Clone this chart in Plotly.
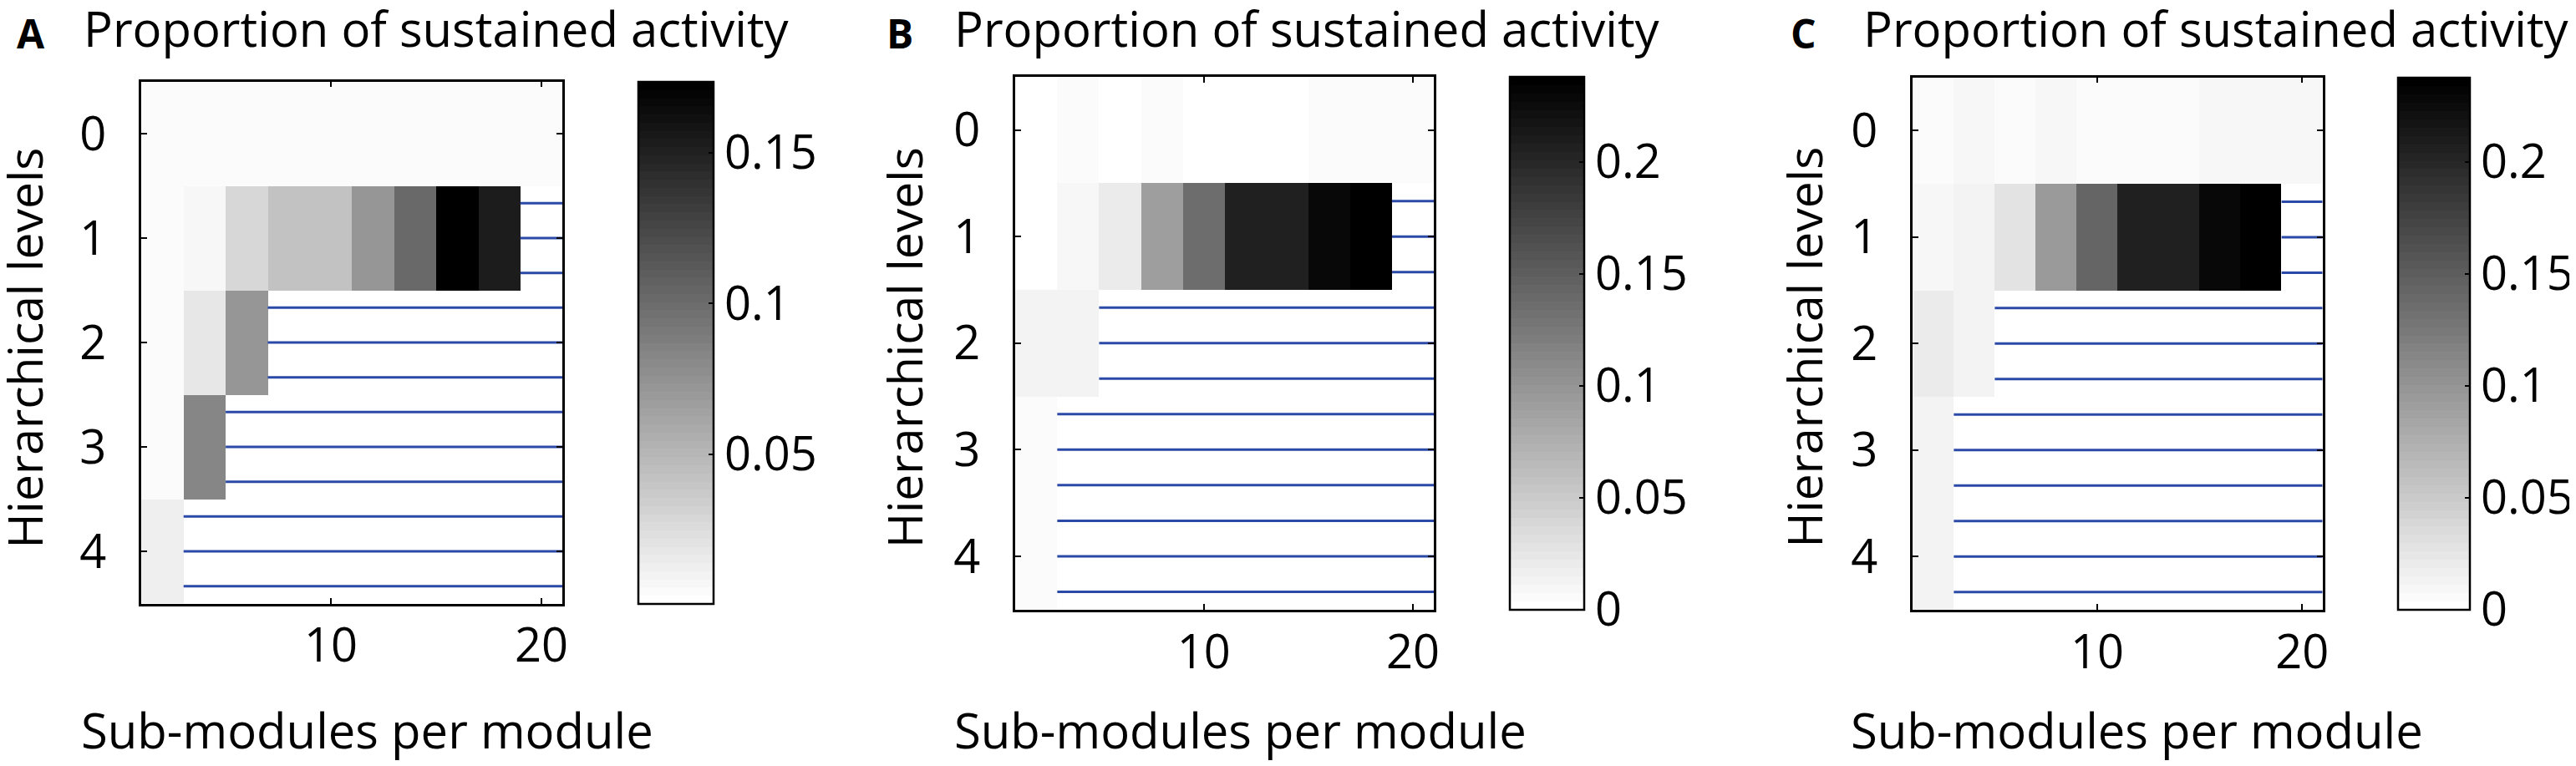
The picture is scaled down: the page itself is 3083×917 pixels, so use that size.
import plotly.graph_objects as go

FONT = "Open Sans"
W, H = 3083, 917

# data
x_modules = [2, 4, 6, 8, 10, 12, 14, 16, 18, 20]
levels = [0, 1, 2, 3, 4]

sustained_a = [
    [0.0045, 0.0045, 0.0045, 0.0045, 0.0045, 0.0045, 0.0045, 0.0045, 0.0045, 0.0045],
    [0.0038, 0.0072, 0.0283, 0.0418, 0.0418, 0.0724, 0.1030, 0.1736, 0.1525, None],
    [0.0052, 0.0181, 0.0731, None, None, None, None, None, None, None],
    [0.0052, 0.0833, None, None, None, None, None, None, None, None],
    [0.0120, None, None, None, None, None, None, None, None, None],
]
sustained_b = [
    [0.0, 0.0056, 0.0, 0.0056, 0.0, 0.0, 0.0, 0.0065, 0.0065, 0.0065],
    [0.0, 0.0084, 0.0215, 0.0924, 0.1353, 0.2053, 0.2053, 0.2287, 0.2380, None],
    [0.0140, 0.0140, None, None, None, None, None, None, None, None],
    [0.0056, None, None, None, None, None, None, None, None, None],
    [0.0056, None, None, None, None, None, None, None, None, None],
]
sustained_c = [
    [0.0056, 0.0084, 0.0056, 0.0084, 0.0065, 0.0065, 0.0065, 0.0103, 0.0103, 0.0103],
    [0.0084, 0.0112, 0.0289, 0.0960, 0.1426, 0.2060, 0.2060, 0.2274, 0.2377, None],
    [0.0205, 0.0121, None, None, None, None, None, None, None, None],
    [0.0121, None, None, None, None, None, None, None, None, None],
    [0.0140, None, None, None, None, None, None, None, None, None],
]

clim_a = (0.0004, 0.1736)
clim_b = (0.0, 0.2380)
clim_c = (0.0, 0.2377)
cbar_ticks_a = [0.05, 0.1, 0.15]
cbar_ticks_bc = [0, 0.05, 0.1, 0.15, 0.2]
cbar_text_a = ["0.05", "0.1", "0.15"]
cbar_text_bc = ["0", "0.05", "0.1", "0.15", "0.2"]
x_ticks = [10, 20]

title = "Proportion of sustained activity"
xlabel = "Sub-modules per module"
ylabel = "Hierarchical levels"

# matlab style flipud(gray) with 64 steps
gray64 = []
for i in range(64):
    g = round(255 * (1 - i / 63))
    c = f"rgb({g},{g},{g})"
    gray64 += [[i / 64, c], [(i + 1) / 64, c]]

# pixel boxes of each panel: axes (l, r, t, b), colorbar (l, r)
panels = [
    dict(z=sustained_a, clim=clim_a, ct=cbar_ticks_a, ctt=cbar_text_a, ax=(161.7, 666.7, 89.5, 714.5),
         cb=(757.3, 849.3), letter="A", lx=29.5, tx=90, xt=432.5, yt=21.5),
    dict(z=sustained_b, clim=clim_b, ct=cbar_ticks_bc, ctt=cbar_text_bc, ax=(1210, 1712, 83.8, 721.7),
         cb=(1802.7, 1893.5), letter="B", lx=1071, tx=1135, xt=1480, yt=1076.5),
    dict(z=sustained_c, clim=clim_c, ct=cbar_ticks_bc, ctt=cbar_text_bc, ax=(2286.5, 2778, 84.7, 722),
         cb=(2869, 2957), letter="C", lx=2155, tx=2225, xt=2555, yt=2155.5),
]

fig = go.Figure()
axis_common = dict(showline=True, linecolor="black", linewidth=2.5, mirror="ticks", ticks="inside",
                   ticklen=7, tickwidth=2, tickcolor="black", showgrid=False, zeroline=False,
                   tickfont=dict(family=FONT, size=56, color="black"))
annotations = []
for k, p in enumerate(panels):
    n = "" if k == 0 else str(k + 1)
    l, r, t, b = p["ax"]
    fig.add_trace(go.Heatmap(x=x_modules, y=levels, z=p["z"], coloraxis="coloraxis" + n,
                             xaxis="x" + n, yaxis="y" + n, hoverongaps=False))

    # blue lines where a row has no data
    half = (x_modules[1] - x_modules[0]) / 2
    x_end = x_modules[-1] + half
    lx, ly = [], []
    for lev, row in zip(levels, p["z"]):
        if None in row:
            x_start = x_modules[row.index(None)] - half
            for off in (-1 / 3, 0, 1 / 3):
                lx += [x_start, x_end, None]
                ly += [lev + off, lev + off, None]
    fig.add_trace(go.Scatter(x=lx, y=ly, mode="lines", line=dict(color="#2b4aa8", width=3),
                             xaxis="x" + n, yaxis="y" + n, hoverinfo="skip"))

    fig.layout["xaxis" + n] = dict(axis_common, domain=[l / W, r / W], anchor="y" + n,
                                   range=[x_modules[0] - half, x_end], tickvals=x_ticks,
                                   ticklabelstandoff=0)
    fig.layout["yaxis" + n] = dict(axis_common, domain=[1 - b / H, 1 - t / H], anchor="x" + n,
                                   range=[levels[-1] + 0.5, levels[0] - 0.5], tickvals=levels,
                                   ticklabelstandoff=28)
    cl, cr = p["cb"]
    fig.layout["coloraxis" + n] = dict(
        colorscale=gray64, cmin=p["clim"][0], cmax=p["clim"][1],
        colorbar=dict(x=cl / W, xanchor="left", xpad=0, ypad=0, thicknessmode="pixels",
                      thickness=cr - cl - 2, lenmode="pixels", len=b - t,
                      y=1 - (t + b) / 2 / H, yanchor="middle", outlinewidth=2.5, outlinecolor="black",
                      tickvals=p["ct"], ticktext=p["ctt"], ticks="inside", ticklen=7, tickwidth=2,
                      tickcolor="black", tickfont=dict(family=FONT, size=56, color="black")))

    annotations += [
        dict(text="<b>" + p["letter"] + "</b>", x=p["lx"] / W, y=1 - 32 / H, xanchor="center",
             yanchor="middle", font=dict(family=FONT, size=48, color="black")),
        dict(text=title, x=p["tx"] / W, y=1 - 26 / H, xanchor="left", yanchor="middle",
             font=dict(family=FONT, size=58, color="black")),
        dict(text=xlabel, x=p["xt"] / W, y=1 - 865 / H, xanchor="center", yanchor="middle",
             font=dict(family=FONT, size=58, color="black")),
        dict(text=ylabel, x=p["yt"] / W, y=1 - 408 / H, xanchor="center", yanchor="middle",
             textangle=-90, font=dict(family=FONT, size=57, color="black")),
    ]

for a in annotations:
    a.update(xref="paper", yref="paper", showarrow=False)

fig.update_layout(width=W, height=H, margin=dict(l=0, r=0, t=0, b=0), showlegend=False,
                  plot_bgcolor="white", paper_bgcolor="white", annotations=annotations)

fig.write_html("out.html")
